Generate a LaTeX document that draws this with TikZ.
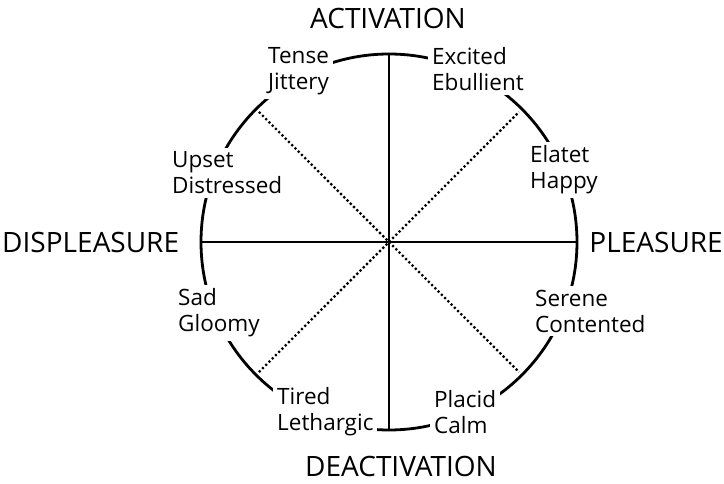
\documentclass[tikz,border=0pt]{standalone}
\usepackage{fontspec}
\setmainfont{Open Sans}
\usetikzlibrary{positioning}

\begin{document}
\begin{tikzpicture}[x=1pt,y=-1pt,
    mood/.style={fill=white, align=left, anchor=west, inner sep=4pt,
                 font=\fontsize{22.5}{26}\selectfont},
    pole/.style={inner sep=0pt, font=\fontsize{28}{32}\selectfont},
    ring/.style={line width=2.8pt},
    spoke/.style={line width=2.2pt, dash pattern=on 2.2pt off 2.4pt}]

    \useasboundingbox (0,0) rectangle (724,484);

    % Centre and the ends of the axes
    \coordinate (c) at (389,242);
    \path (c) ++(90:188) coordinate (n);
    \path (c) ++(270:188) coordinate (s);
    \path (c) ++(180:188) coordinate (w);
    \path (c) ++(0:188) coordinate (e);
    \path (c) ++(45:184) coordinate (ne);
    \path (c) ++(135:184) coordinate (nw);
    \path (c) ++(225:184) coordinate (sw);
    \path (c) ++(315:184) coordinate (se);

    % The circle (cut by the mood labels below)
    \draw[ring] (c) circle (188);

    % Mood labels round the circle
    \node[mood] (tense)   at (264,71)  {Tense\\Jittery};
    \node[mood] (excited) at (428,69)  {Excited\\Ebullient};
    \node[mood] (elatet)  at (526,170) {Elatet\\Happy};
    \node[mood] (upset)   at (168,173) {Upset\\Distressed};
    \node[mood] (sad)     at (174,313) {Sad\\Gloomy};
    \node[mood] (serene)  at (531,311) {Serene\\Contented};
    \node[mood] (tired)   at (273,412) {Tired\\Lethargic};
    \node[mood] (placid)  at (430,412) {Placid\\Calm};

    % Axes
    \draw[ring] (n) -- (s);
    \draw[ring] (w) -- (e);

    % Diagonals
    \draw[spoke] (nw) -- (se);
    \draw[spoke] (sw) -- (ne);

    % Poles
    \node[pole] (act)   at (388,18)  {ACTIVATION};
    \node[pole] (deact) at (401,466) {DEACTIVATION};
    \node[pole, anchor=west] (displ) at (2,242)   {DISPLEASURE};
    \node[pole, anchor=east] (pleas) at (723,242) {PLEASURE};

\end{tikzpicture}
\end{document}
